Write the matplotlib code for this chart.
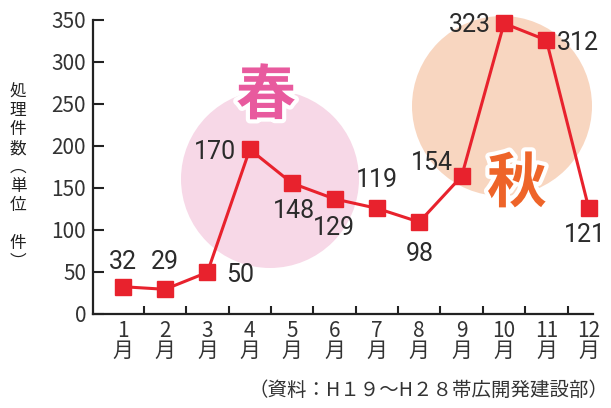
import matplotlib
matplotlib.use("Agg")
import matplotlib.pyplot as plt
from matplotlib.patches import Ellipse
import matplotlib.patheffects as pe

months = [1, 2, 3, 4, 5, 6, 7, 8, 9, 10, 11, 12]
month_labels = [f"{m}\n月" for m in months]
values = [32.5, 29.4, 49.6, 196, 155.6, 137, 125.8, 109.5, 164, 346, 326, 126]
value_labels = ["32", "29", "50", "170", "148", "129", "119", "98", "154", "323", "312", "121"]
yticks = [0, 50, 100, 150, 200, 250, 300, 350]
ylabel_chars = ["処", "理", "件", "数", "︵", "単", "位", "", "件", "︶"]
source_text = "（資料：H１９～H２８帯広開発建設部）"

# label offsets (pixels) relative to points
label_offsets = [(0, 25), (0, 27), (33, -3), (-35, -3), (2, -28), (-1, -29),
                 (0, 28), (0, -32), (-30, 13), (-34, -2), (31, -3), (-4, -27)]

num_font = ["Roboto", "DejaVu Sans"]
cjk = ["Noto Sans CJK JP", "DejaVu Sans"]
plt.rcParams["font.family"] = cjk

W, H = 611, 408
fig = plt.figure(figsize=(W / 100, H / 100), dpi=100)
ax_l, ax_r, ax_b, ax_t = 93, 593, 314, 20
ax = fig.add_axes([ax_l / W, 1 - ax_b / H, (ax_r - ax_l) / W, (ax_b - ax_t) / H])
xlim = (0.30, 12.1)
ylim = (0, 350)
ax.set_xlim(*xlim)
ax.set_ylim(*ylim)

pxx = (ax_r - ax_l) / (xlim[1] - xlim[0])
pxy = (ax_b - ax_t) / (ylim[1] - ylim[0])

def px_to_data(x, y):
    return xlim[0] + (x - ax_l) / pxx, (ax_b - y) / pxy

# background circles
for (cx, cy, r, col) in [(270, 179, 89, "#f7d8e7"), (502, 106, 90, "#f8d6c0")]:
    dx, dy = px_to_data(cx, cy)
    ax.add_patch(Ellipse((dx, dy), 2 * r / pxx, 2 * r / pxy, facecolor=col,
                         edgecolor="none", zorder=0, clip_on=False))

# season characters
for (tx, ty, s, col) in [(266, 97, "春", "#e85a9e"), (517, 185, "秋", "#ee6429")]:
    dx, dy = px_to_data(tx, ty)
    ax.text(dx, dy, s, fontsize=43, fontweight="bold", color=col, ha="center", va="center",
            zorder=2, path_effects=[pe.withStroke(linewidth=6, foreground="white")])

red = "#e8222d"
ax.plot(months, values, color=red, lw=2.2, marker="s", markersize=11,
        markeredgecolor=red, markerfacecolor=red, zorder=3, clip_on=False)

for m, v, lab, (ox, oy) in zip(months, values, value_labels, label_offsets):
    ax.annotate(lab, (m, v), xytext=(ox * 0.72, oy * 0.72), textcoords="offset points",
                ha="center", va="center", fontsize=18, color="#2b2b2b",
                family=num_font, zorder=4)

for s in ["top", "right"]:
    ax.spines[s].set_visible(False)
for s in ["left", "bottom"]:
    ax.spines[s].set_linewidth(1.6)
    ax.spines[s].set_color("#222222")

ax.set_yticks(yticks)
ax.set_yticklabels([str(t) for t in yticks])
ax.tick_params(axis="y", direction="in", length=8, width=1.5, pad=5, labelsize=15,
               labelcolor="#333333", color="#222222")
ax.set_xticks(months)
ax.set_xticklabels(month_labels, linespacing=0.9)
ax.set_xticks([m + 0.5 for m in months[:-1]], minor=True)
ax.tick_params(axis="x", which="major", length=0, pad=4, labelsize=15, labelcolor="#333333")
ax.tick_params(axis="x", which="minor", direction="in", length=6, width=1.5, color="#222222")

fig.text(18 / W, 1 - 177 / H, "\n".join(ylabel_chars), ha="center", va="center",
         fontsize=12, color="#222222", linespacing=1.15)
fig.text(608 / W, 1 - 390 / H, source_text, ha="right", va="center", fontsize=14,
         color="#333333")

fig.savefig("out.png", dpi=100)
